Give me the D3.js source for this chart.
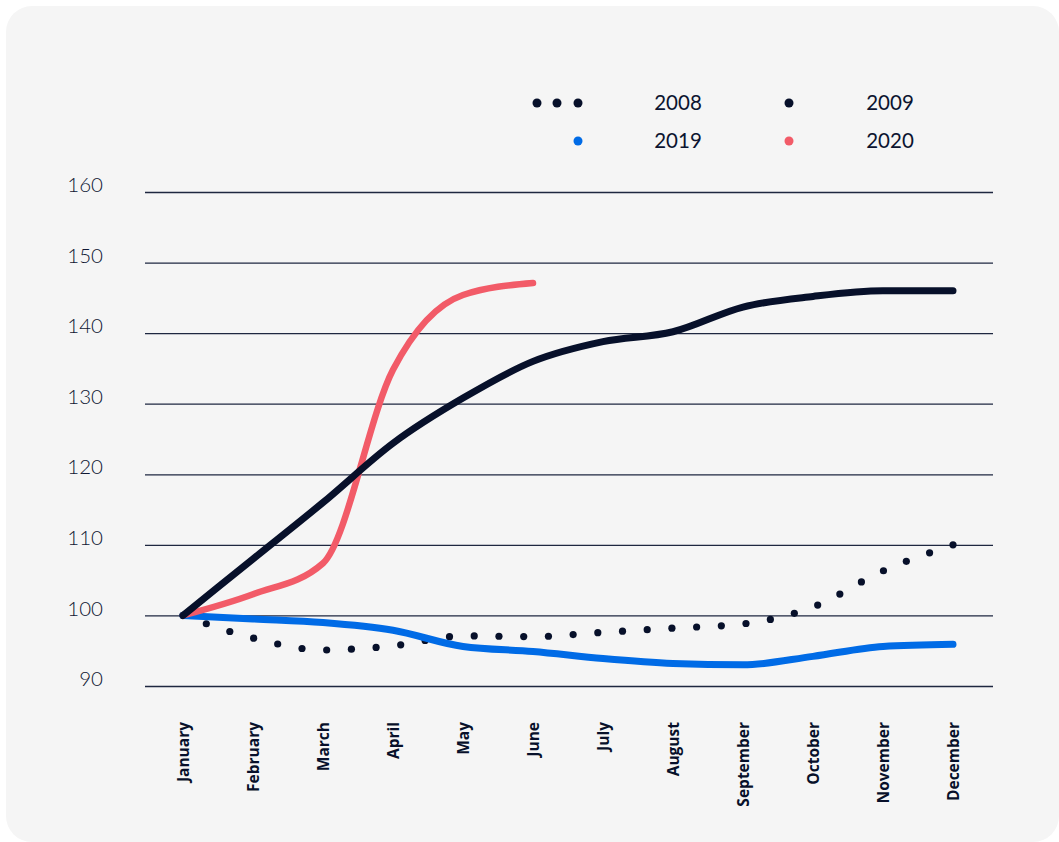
<!DOCTYPE html>
<html>
<head>
<meta charset="utf-8">
<script src="https://cdn.jsdelivr.net/npm/d3@7"></script>
<style>
  html, body { margin: 0; padding: 0; background: #ffffff; }
  svg { display: block; }
</style>
</head>
<body>
<svg id="chart" width="1059" height="842"></svg>
<script>
const months = ["January","February","March","April","May","June","July","August","September","October","November","December"];
const yTicks = [90, 100, 110, 120, 130, 140, 150, 160];
const values2008 = [100, 96.8, 95.1, 95.7, 97.1, 97.0, 97.6, 98.2, 98.8, 101.2, 106.3, 110.0];
const values2009 = [100, 108.0, 116.0, 124.4, 130.8, 136.0, 138.8, 140.2, 143.7, 145.2, 146.0, 146.0];
const values2019 = [100, 99.5, 99.0, 97.9, 95.6, 94.9, 93.9, 93.2, 93.0, 94.2, 95.6, 95.9];
const values2020 = [100, 103.0, 107.4, 134.8, 145.4, 147.1];
const seriesNames = ["2008", "2009", "2019", "2020"];

const colors = { "2008": "#07102a", "2009": "#07102a", "2019": "#006be6", "2020": "#f25b68" };
const textColor = "#0c1430";

const svg = d3.select("#chart");

// card background
svg.append("rect")
  .attr("x", 6).attr("y", 6)
  .attr("width", 1053).attr("height", 836)
  .attr("rx", 26).attr("ry", 26)
  .attr("fill", "#f5f5f5");

const x = d3.scalePoint().domain(months).range([183, 953]);
const y = d3.scaleLinear().domain([90, 160]).range([686, 192]);

// grid lines
const yAxis = d3.axisLeft(y).tickValues(yTicks).tickSize(-(993 - 145)).tickPadding(42).tickFormat(d3.format("d"));
const gy = svg.append("g").attr("transform", "translate(145,0)").call(yAxis);
gy.select(".domain").remove();
gy.selectAll(".tick line").attr("stroke", "#1e2740").attr("stroke-width", 1.3);
gy.selectAll(".tick text")
  .attr("fill", "#0f1733")
  .attr("font-family", "Lato, 'Open Sans', sans-serif")
  .attr("font-weight", 300)
  .attr("font-size", 20.5)
  .attr("dy", "-0.02em");

// x axis labels (rotated)
const xAxis = d3.axisBottom(x).tickSize(0).tickPadding(0);
const gx = svg.append("g").attr("transform", "translate(0,722)").call(xAxis);
gx.select(".domain").remove();
gx.selectAll(".tick text")
  .attr("transform", "rotate(-90)")
  .attr("text-anchor", "end")
  .attr("x", 0).attr("y", 0)
  .attr("dy", "0.35em")
  .attr("fill", "#07102a")
  .attr("font-family", "'Open Sans', sans-serif")
  .attr("font-weight", 700)
  .attr("font-size", 15.5);

const line = d3.line()
  .x((d, i) => x(months[i]))
  .y(d => y(d))
  .curve(d3.curveMonotoneX);

const g = svg.append("g");

// 2008 dotted: dots evenly spaced along the path, including both ends
const p2008 = g.append("path")
  .datum(values2008)
  .attr("d", line)
  .attr("fill", "none")
  .attr("stroke", "none");
const node = p2008.node();
const L = node.getTotalLength();
const nDots = Math.round(L / 24.8);
const step = L / nDots;
const dots = d3.range(nDots + 1).map(i => node.getPointAtLength(i * step));
g.selectAll("circle.d2008")
  .data(dots)
  .join("circle")
  .attr("class", "d2008")
  .attr("cx", d => d.x)
  .attr("cy", d => d.y)
  .attr("r", 3.6)
  .attr("fill", colors["2008"]);

// 2019 blue
g.append("path")
  .datum(values2019)
  .attr("d", line)
  .attr("fill", "none")
  .attr("stroke", colors["2019"])
  .attr("stroke-width", 7)
  .attr("stroke-linecap", "round")
  .attr("stroke-linejoin", "round");

// 2020 red
g.append("path")
  .datum(values2020)
  .attr("d", line)
  .attr("fill", "none")
  .attr("stroke", colors["2020"])
  .attr("stroke-width", 6.5)
  .attr("stroke-linecap", "round")
  .attr("stroke-linejoin", "round");

// 2009 black
g.append("path")
  .datum(values2009)
  .attr("d", line)
  .attr("fill", "none")
  .attr("stroke", colors["2009"])
  .attr("stroke-width", 7)
  .attr("stroke-linecap", "round")
  .attr("stroke-linejoin", "round");

// legend
const legendItems = [
  { name: "2008", dots: [537, 557, 578], cy: 103, tx: 678 },
  { name: "2009", dots: [789], cy: 103, tx: 890 },
  { name: "2019", dots: [578], cy: 141, tx: 678 },
  { name: "2020", dots: [789], cy: 141, tx: 890 }
];
const lg = svg.append("g");
legendItems.forEach(it => {
  it.dots.forEach(cx => {
    lg.append("circle").attr("cx", cx).attr("cy", it.cy).attr("r", 4.5).attr("fill", colors[it.name]);
  });
  lg.append("text")
    .attr("x", it.tx).attr("y", it.cy)
    .attr("dy", "0.36em")
    .attr("text-anchor", "middle")
    .attr("fill", textColor)
    .attr("font-family", "Lato, 'Open Sans', sans-serif")
    .attr("font-size", 20.5)
    .text(it.name);
});
</script>
</body>
</html>
